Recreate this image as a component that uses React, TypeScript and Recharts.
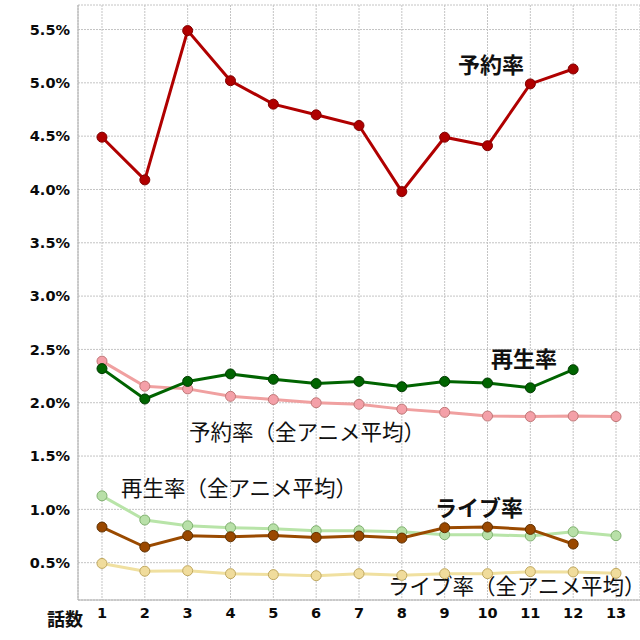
import React from 'react';
import { LineChart, Line, XAxis, YAxis, CartesianGrid, Customized } from 'recharts';

// 話数
const episodes = [1, 2, 3, 4, 5, 6, 7, 8, 9, 10, 11, 12, 13];

// 各話の値 (%)
const yoyaku = [4.49, 4.09, 5.49, 5.02, 4.8, 4.7, 4.6, 3.98, 4.49, 4.41, 4.99, 5.13, null];
const saisei = [2.32, 2.035, 2.2, 2.27, 2.22, 2.18, 2.2, 2.15, 2.2, 2.185, 2.14, 2.31, null];
const live = [0.834, 0.647, 0.753, 0.743, 0.756, 0.737, 0.75, 0.731, 0.828, 0.834, 0.812, 0.675, null];

// 全アニメ平均 (%)
const yoyakuAvg = [2.39, 2.155, 2.13, 2.06, 2.03, 2.0, 1.985, 1.94, 1.91, 1.875, 1.87, 1.875, 1.87];
const saiseiAvg = [1.127, 0.9, 0.846, 0.828, 0.818, 0.8, 0.8, 0.79, 0.762, 0.762, 0.75, 0.79, 0.753];
const liveAvg = [0.493, 0.42, 0.425, 0.397, 0.388, 0.378, 0.397, 0.381, 0.397, 0.397, 0.416, 0.413, 0.4];

const yTicks = [0.5, 1.0, 1.5, 2.0, 2.5, 3.0, 3.5, 4.0, 4.5, 5.0, 5.5];

const data = episodes.map((ep, i) => ({
  ep,
  yoyaku: yoyaku[i],
  saisei: saisei[i],
  live: live[i],
  yoyakuAvg: yoyakuAvg[i],
  saiseiAvg: saiseiAvg[i],
  liveAvg: liveAvg[i],
}));

const tickStyle = { fontFamily: 'DejaVu Sans', fontWeight: 700, fontSize: 14.5, fill: '#0a0a0a' };
const jp = 'Noto Sans CJK JP';

const Labels = () => (
  <g fontFamily={jp} fill="#111">
    <text x={458} y={73} fontSize={22} fontWeight={700}>予約率</text>
    <text x={491} y={367} fontSize={22} fontWeight={700}>再生率</text>
    <text x={435} y={516} fontSize={22} fontWeight={700}>ライブ率</text>
    <g fontSize={21.5}>
      <text x={189} y={440}>予約率（全アニメ平均）</text>
      <text x={121} y={496}>再生率（全アニメ平均）</text>
      <text x={388} y={594}>ライブ率（全アニメ平均）</text>
    </g>
    <text x={47} y={626} fontSize={18} fontWeight={700}>話数</text>
  </g>
);

const dot = (fill: string, stroke: string) => ({ r: 5, fill, stroke, strokeWidth: 1 });

const App = () => {
  return (
    <div style={{ position: 'absolute', left: 0, top: 0, background: '#fff' }}>
      <LineChart width={640} height={640} data={data} margin={{ top: 5, right: 0, left: 0, bottom: 0 }}>
        <CartesianGrid stroke="#c4c4c4" strokeDasharray="2 1" />
        <XAxis
          dataKey="ep"
          type="number"
          domain={[0.44, 13.56]}
          ticks={episodes}
          interval={0}
          height={40}
          tickLine={false}
          axisLine={{ stroke: '#b0b0b0' }}
          tick={tickStyle}
        />
        <YAxis
          type="number"
          domain={[0.15, 5.73]}
          allowDataOverflow
          ticks={yTicks}
          width={78}
          tickLine={false}
          axisLine={{ stroke: '#b0b0b0' }}
          tick={tickStyle}
          tickFormatter={(v: number) => `${v.toFixed(1)}%`}
        />
        <Line dataKey="liveAvg" stroke="#f0e0a0" strokeWidth={3} dot={dot('#f0dc9c', '#c0a860')} isAnimationActive={false} />
        <Line dataKey="saiseiAvg" stroke="#b8e4a8" strokeWidth={3} dot={dot('#b8e0a8', '#80b070')} isAnimationActive={false} />
        <Line dataKey="yoyakuAvg" stroke="#f0a0a0" strokeWidth={3} dot={dot('#f4a0a8', '#c07878')} isAnimationActive={false} />
        <Line dataKey="live" stroke="#9a4a00" strokeWidth={3} dot={dot('#9a4800', '#603000')} isAnimationActive={false} />
        <Line dataKey="saisei" stroke="#006400" strokeWidth={3} dot={dot('#006400', '#003a00')} isAnimationActive={false} />
        <Line dataKey="yoyaku" stroke="#b00000" strokeWidth={3} dot={dot('#b00000', '#800000')} isAnimationActive={false} />
        <Customized component={Labels} />
      </LineChart>
    </div>
  );
};

export default App;
